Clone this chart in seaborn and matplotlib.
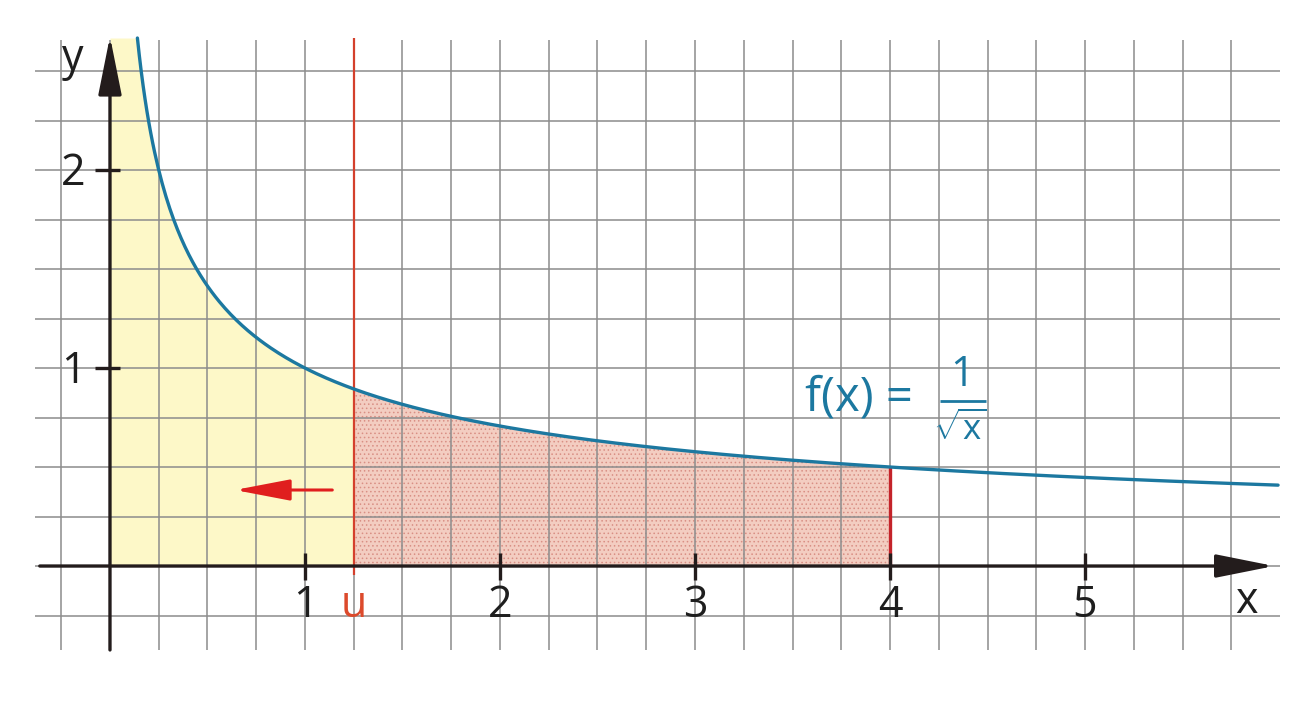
import numpy as np
import pandas as pd
import matplotlib
matplotlib.use("Agg")
import matplotlib.pyplot as plt
import seaborn as sns

# ---- data ----
x_ticks = [1, 2, 3, 4, 5]
x_tick_labels = ["1", "2", "3", "4", "5"]
y_ticks = [1, 2]
y_tick_labels = ["1", "2"]
u_value = 1.25          # movable lower bound u
b_value = 4.0           # upper bound
x_start, x_end = 0.1406, 5.99   # visible extent of the curve
grid_step = 0.25


def f(x):
    return 1.0 / np.sqrt(x)   # the function shown: f(x) = 1/sqrt(x)


xs = np.linspace(x_start, x_end, 600)
curve = pd.DataFrame({"x": xs, "y": f(xs)})

# ---- style ----
sns.set_theme(style="white")
plt.rcParams["font.family"] = ["Open Sans", "DejaVu Sans"]
plt.rcParams["mathtext.fontset"] = "custom"
plt.rcParams["mathtext.rm"] = "Open Sans"
plt.rcParams["mathtext.it"] = "Open Sans"
plt.rcParams["mathtext.sf"] = "Open Sans"
plt.rcParams["hatch.linewidth"] = 0.6

fig = plt.figure(figsize=(13.12, 7.06), dpi=100)
ax = fig.add_axes([0, 0, 1, 1])
ax.set_xlim(-0.564, 6.164)
ax.set_ylim(-0.707, 2.859)
ax.axis("off")

top = 2.667
grid_col = "#8c8c8c"
# grid
gx = np.arange(-0.25, 5.76, grid_step)
gy = np.arange(-0.25, 2.51, grid_step)
ax.vlines(gx, -0.424, 2.657, color=grid_col, lw=1.1, zorder=2)
ax.hlines(gy, -0.385, 6.0, color=grid_col, lw=1.1, zorder=2)

# fills
xa = np.linspace(0, u_value, 300)
ya = np.minimum(f(np.maximum(xa, 1e-6)), top)
ax.fill_between(xa, 0, ya, color="#fdf8c8", lw=0, zorder=1)
xb = np.linspace(u_value, b_value, 300)
ax.fill_between(xb, 0, f(xb), facecolor="#f3cdc1", edgecolor="#d98f84",
                hatch="....", lw=0, zorder=1)

# curve
sns.lineplot(data=curve, x="x", y="y", color="#1c78a0", lw=2.4, ax=ax,
             zorder=5, legend=False)

# red boundary lines
ax.vlines([u_value], -0.045, top, color="#d4402c", lw=1.6, zorder=4)
ax.vlines([b_value], 0, f(b_value), color="#c4232a", lw=2.4, zorder=4)

# axes with arrows
axis_col = "#231c1c"
ax.annotate("", xy=(5.97, 0), xytext=(-0.36, 0),
            arrowprops=dict(arrowstyle="-|>,head_length=3.6,head_width=0.72",
                            lw=2.4, color=axis_col, shrinkA=0, shrinkB=0,
                            mutation_scale=10), zorder=6)
ax.annotate("", xy=(0, 2.675), xytext=(0, -0.424),
            arrowprops=dict(arrowstyle="-|>,head_length=3.6,head_width=0.72",
                            lw=2.4, color=axis_col, shrinkA=0, shrinkB=0,
                            mutation_scale=10), zorder=6)

# ticks
ax.vlines(x_ticks, -0.07, 0.066, color=axis_col, lw=2.4, zorder=6)
ax.hlines(y_ticks, -0.077, 0.05, color=axis_col, lw=2.4, zorder=6)

fs = 31
for xt, lab in zip(x_ticks, x_tick_labels):
    ax.text(xt, -0.2, lab, ha="center", va="center", fontsize=fs,
            color="#1e1e1e", zorder=7)
for yt, lab in zip(y_ticks, y_tick_labels):
    ax.text(-0.19, yt - 0.02, lab, ha="center", va="center", fontsize=fs,
            color="#1e1e1e", zorder=7)
ax.text(u_value, -0.2, "u", ha="center", va="center", fontsize=fs,
        color="#dc4a2c", zorder=7)
ax.text(-0.19, 2.56, "y", ha="center", va="center", fontsize=fs,
        color="#1e1e1e", zorder=7)
ax.text(5.83, -0.18, "x", ha="center", va="center", fontsize=fs,
        color="#1e1e1e", zorder=7)

# red arrow (moving u to the left)
ax.annotate("", xy=(0.64, 0.384), xytext=(1.14, 0.384),
            arrowprops=dict(arrowstyle="-|>,head_length=3.4,head_width=0.65",
                            lw=2.2, color="#e01e1e", shrinkA=0, shrinkB=0,
                            mutation_scale=10), zorder=6)

# formula f(x) = 1/sqrt(x)
fcol = "#1c78a0"
ax.text(3.565, 0.85, "f(x) =", ha="left", va="center", fontsize=34,
        color=fcol, zorder=7)
ax.text(4.37, 0.965, "1", ha="center", va="center", fontsize=30,
        color=fcol, zorder=7)
ax.plot([4.255, 4.49], [0.833, 0.833], color=fcol, lw=2.0, zorder=7,
        solid_capstyle="butt")
ax.text(4.36, 0.69, r"$\sqrt{\mathrm{x}}$", ha="center", va="center",
        fontsize=25, color=fcol, zorder=7)

fig.savefig("out.png", dpi=100)
